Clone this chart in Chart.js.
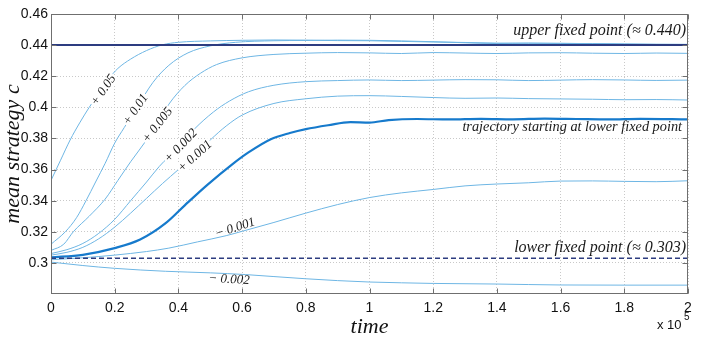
<!DOCTYPE html>
<html>
<head>
<meta charset="utf-8">
<script src="https://cdn.jsdelivr.net/npm/chart.js@4"></script>
<style>
  html, body { margin: 0; padding: 0; background: #fff; }
  #chart { display: block; }
</style>
</head>
<body>
<canvas id="chart" width="706" height="340"></canvas>
<script>
// Fixed points of the dynamics
const upperFixed = 0.440;
const lowerFixed = 0.303;

// Axis ticks (time in units of 1e5)
const xTicks = [0, 0.2, 0.4, 0.6, 0.8, 1, 1.2, 1.4, 1.6, 1.8, 2];
const yTicks = [0.3, 0.32, 0.34, 0.36, 0.38, 0.4, 0.42, 0.44, 0.46];

// Trajectories: [time, mean strategy c]
const curveP050 = [[0,0.353],[0.03,0.366],[0.06,0.379],[0.09,0.39],[0.12,0.40],[0.15,0.409],[0.18,0.418],[0.21,0.425],[0.25,0.431],[0.3,0.4365],[0.35,0.4402],[0.4,0.4418],[0.5,0.4427],[0.6,0.4431],[0.7,0.4433],[0.8,0.4432],[0.9,0.4429],[1.0,0.4428],[1.1,0.4424],[1.2,0.442],[1.3,0.4417],[1.4,0.4413],[1.5,0.4412],[1.6,0.441],[1.7,0.441],[1.8,0.4408],[1.9,0.4406],[2.0,0.4405]];
const curveP010 = [[0,0.312],[0.045,0.32],[0.08,0.329],[0.11,0.34],[0.14,0.352],[0.17,0.364],[0.2,0.377],[0.23,0.387],[0.27,0.4],[0.32,0.416],[0.37,0.427],[0.43,0.435],[0.5,0.4395],[0.58,0.4418],[0.7,0.4428],[0.8,0.443],[0.9,0.4432],[1.0,0.4431],[1.1,0.4427],[1.2,0.4422],[1.3,0.4415],[1.4,0.441],[1.5,0.4413],[1.6,0.4412],[1.7,0.4409],[1.8,0.4406],[1.9,0.4404],[2.0,0.4403]];
const curveP005 = [[0,0.308],[0.04,0.312],[0.07,0.32],[0.12,0.33],[0.17,0.341],[0.21,0.353],[0.25,0.365],[0.3,0.379],[0.335,0.39],[0.37,0.402],[0.42,0.414],[0.47,0.422],[0.52,0.4275],[0.6,0.4318],[0.7,0.434],[0.8,0.4348],[0.9,0.4352],[1.0,0.435],[1.1,0.4346],[1.2,0.4352],[1.3,0.4349],[1.4,0.4346],[1.5,0.435],[1.6,0.4351],[1.7,0.4348],[1.8,0.4346],[1.9,0.4349],[2.0,0.4347]];
const curveP002 = [[0,0.306],[0.05,0.3085],[0.1,0.3125],[0.15,0.319],[0.2,0.328],[0.25,0.34],[0.3,0.352],[0.34,0.362],[0.4,0.3745],[0.45,0.386],[0.51,0.397],[0.56,0.404],[0.62,0.41],[0.7,0.4142],[0.8,0.4165],[0.9,0.4172],[1.0,0.4176],[1.1,0.4172],[1.2,0.4175],[1.3,0.4178],[1.4,0.4177],[1.5,0.4172],[1.6,0.4175],[1.7,0.4178],[1.8,0.4176],[1.9,0.4173],[2.0,0.4175]];
const curveP001 = [[0,0.305],[0.05,0.3068],[0.1,0.31],[0.15,0.3155],[0.2,0.323],[0.25,0.332],[0.3,0.3415],[0.35,0.351],[0.4,0.36],[0.45,0.369],[0.5,0.379],[0.55,0.388],[0.6,0.395],[0.7,0.4025],[0.8,0.4055],[0.9,0.4072],[1.0,0.4075],[1.1,0.407],[1.2,0.4063],[1.3,0.4058],[1.4,0.406],[1.5,0.4056],[1.6,0.4054],[1.7,0.4052],[1.8,0.4049],[1.9,0.405],[2.0,0.4047]];
const curveLow = [[0,0.3035],[0.1,0.3052],[0.2,0.3095],[0.28,0.315],[0.36,0.3255],[0.42,0.337],[0.49,0.35],[0.57,0.3635],[0.62,0.371],[0.69,0.3795],[0.75,0.3835],[0.8,0.386],[0.87,0.3885],[0.94,0.3905],[1.0,0.3902],[1.06,0.3918],[1.15,0.3925],[1.25,0.3922],[1.35,0.3926],[1.45,0.3923],[1.55,0.3928],[1.65,0.3925],[1.75,0.3922],[1.85,0.3926],[2.0,0.3922]];
const curveM001 = [[0,0.302],[0.1,0.3033],[0.2,0.305],[0.3,0.3073],[0.37,0.3095],[0.46,0.3135],[0.55,0.3175],[0.6,0.3203],[0.7,0.326],[0.8,0.332],[0.9,0.3375],[1.0,0.342],[1.1,0.345],[1.2,0.3472],[1.3,0.3495],[1.4,0.3507],[1.5,0.3515],[1.6,0.3526],[1.7,0.3527],[1.8,0.3524],[1.9,0.3522],[2.0,0.3528]];
const curveM002 = [[0,0.3005],[0.1,0.2983],[0.2,0.2965],[0.36,0.2946],[0.5,0.2936],[0.61,0.2925],[0.7,0.2912],[0.8,0.2898],[0.9,0.2886],[1.0,0.2877],[1.1,0.2872],[1.2,0.2868],[1.4,0.2864],[1.6,0.2858],[1.8,0.2857],[2.0,0.2857]];

// Perturbation labels sitting on the curves: text, time, c, angle (deg)
const curveLabels = [
    ['+ 0.05', 0.165, 0.4110, -55],
    ['+ 0.01', 0.266, 0.3985, -56],
    ['+ 0.005', 0.335, 0.3885, -52],
    ['+ 0.002', 0.408, 0.3752, -46],
    ['+ 0.001', 0.452, 0.3684, -42],
    ['\u2212 0.001', 0.578, 0.3224, -18],
    ['\u2212 0.002', 0.559, 0.2893, 3]
];

const lightBlue = 'rgb(110,182,228)';
const darkBlue = 'rgb(22,122,204)';
const navy = 'rgb(45,60,128)';
const frameColor = '#6f6f6f';
const serif = "'Liberation Serif', 'DejaVu Serif', serif";
const sans = "'Liberation Sans', Arial, sans-serif";

function toPoints(arr) {
    return arr.map(p => ({ x: p[0], y: p[1] }));
}

function curve(arr, color, width) {
    return {
        data: toPoints(arr),
        borderColor: color,
        borderWidth: width,
        cubicInterpolationMode: 'monotone',
        order: 1
    };
}

// Frame, inward ticks, annotations and curve labels
const decorations = {
    id: 'decorations',
    afterDatasetsDraw(chart) {
        const { ctx, chartArea: a, scales: { x, y } } = chart;
        ctx.save();

        // box round the axes
        const l = Math.round(a.left) + 0.5, r = Math.round(a.right) - 0.5;
        const t = Math.round(a.top) + 0.5, b = Math.round(a.bottom) - 0.5;
        ctx.strokeStyle = frameColor;
        ctx.lineWidth = 1;
        ctx.strokeRect(l, t, r - l, b - t);

        // ticks pointing inwards
        ctx.beginPath();
        yTicks.forEach(v => {
            const py = Math.round(y.getPixelForValue(v)) + 0.5;
            ctx.moveTo(l, py); ctx.lineTo(l + 5, py);
            ctx.moveTo(r, py); ctx.lineTo(r - 5, py);
        });
        xTicks.forEach(v => {
            const px = Math.round(x.getPixelForValue(v)) + 0.5;
            ctx.moveTo(px, b); ctx.lineTo(px, b - 5);
            ctx.moveTo(px, t); ctx.lineTo(px, t + 5);
        });
        ctx.stroke();

        // fixed point and trajectory annotations
        ctx.fillStyle = '#1a1a1a';
        ctx.textAlign = 'right';
        ctx.textBaseline = 'alphabetic';
        ctx.font = 'italic 16px ' + serif;
        ctx.fillText('upper fixed point (\u2248 0.440)', a.right - 2, y.getPixelForValue(upperFixed) - 10);
        ctx.fillText('lower fixed point (\u2248 0.303)', a.right - 2, y.getPixelForValue(lowerFixed) - 6);
        ctx.font = 'italic 14.3px ' + serif;
        ctx.fillText('trajectory starting at lower fixed point', a.right - 6, y.getPixelForValue(curveLow[curveLow.length - 1][1]) + 12);

        // labels along curves
        ctx.font = 'italic 13px ' + serif;
        ctx.textAlign = 'center';
        ctx.textBaseline = 'middle';
        curveLabels.forEach(([txt, tv, cv, ang]) => {
            const px = x.getPixelForValue(tv), py = y.getPixelForValue(cv);
            ctx.save();
            ctx.translate(px, py);
            ctx.rotate(ang * Math.PI / 180);
            if (txt[0] === '+') {
                const w = ctx.measureText(txt).width;
                ctx.fillStyle = '#fff';
                ctx.fillRect(-w / 2 - 1, -6, w + 2, 12);
            }
            ctx.fillStyle = '#1a1a1a';
            ctx.fillText(txt, 0, 0);
            ctx.restore();
        });

        // exponent of the time axis
        ctx.textAlign = 'left';
        ctx.textBaseline = 'alphabetic';
        ctx.font = '13px ' + sans;
        ctx.fillStyle = '#111';
        ctx.fillText('x 10', a.right - 31, 329);
        ctx.font = '10px ' + sans;
        ctx.fillText('5', a.right - 4, 320);

        ctx.restore();
    }
};

const ctx = document.getElementById('chart').getContext('2d');
const chart = new Chart(ctx, {
    type: 'line',
    data: {
        datasets: [
            {
                data: toPoints([[0, upperFixed], [2, upperFixed]]),
                borderColor: navy,
                borderWidth: 2,
                order: 0
            },
            {
                data: toPoints([[0, lowerFixed], [2, lowerFixed]]),
                borderColor: navy,
                borderWidth: 1.6,
                borderDash: [5, 3],
                order: 0
            },
            curve(curveP050, lightBlue, 1),
            curve(curveP010, lightBlue, 1),
            curve(curveP005, lightBlue, 1),
            curve(curveP002, lightBlue, 1),
            curve(curveP001, lightBlue, 1),
            curve(curveLow, darkBlue, 2.2),
            curve(curveM001, lightBlue, 1),
            curve(curveM002, lightBlue, 1)
        ]
    },
    options: {
        responsive: false,
        animation: false,
        layout: { padding: { top: 14, right: 18, left: 0, bottom: 0 } },
        plugins: { legend: { display: false }, tooltip: { enabled: false } },
        elements: { point: { radius: 0 } },
        scales: {
            x: {
                type: 'linear',
                min: 0,
                max: 2,
                afterFit: s => { s.height = 46; },
                afterBuildTicks: s => { s.ticks = xTicks.map(v => ({ value: v })); },
                ticks: {
                    padding: 6,
                    maxRotation: 0,
                    autoSkip: false,
                    color: '#111',
                    font: { family: sans, size: 14 },
                    callback: v => String(+v.toFixed(1))
                },
                grid: { color: '#c9c9c9', drawTicks: false },
                border: { display: false, dash: [1, 2] },
                title: {
                    display: true,
                    text: 'time',
                    color: '#111',
                    font: { family: serif, size: 22, style: 'italic' },
                    padding: { top: 1, bottom: 0 }
                }
            },
            y: {
                min: 0.28,
                max: 0.46,
                afterFit: s => { s.width = 51; },
                afterBuildTicks: s => { s.ticks = yTicks.map(v => ({ value: v })); },
                ticks: {
                    padding: 3,
                    color: '#111',
                    font: { family: sans, size: 14 },
                    callback: v => String(+v.toFixed(2))
                },
                grid: { color: '#c9c9c9', drawTicks: false },
                border: { display: false, dash: [1, 2] },
                title: {
                    display: true,
                    text: 'mean strategy c',
                    color: '#111',
                    font: { family: serif, size: 22, style: 'italic' },
                    padding: { top: 0, bottom: 0 }
                }
            }
        }
    },
    plugins: [decorations]
});
</script>
</body>
</html>
